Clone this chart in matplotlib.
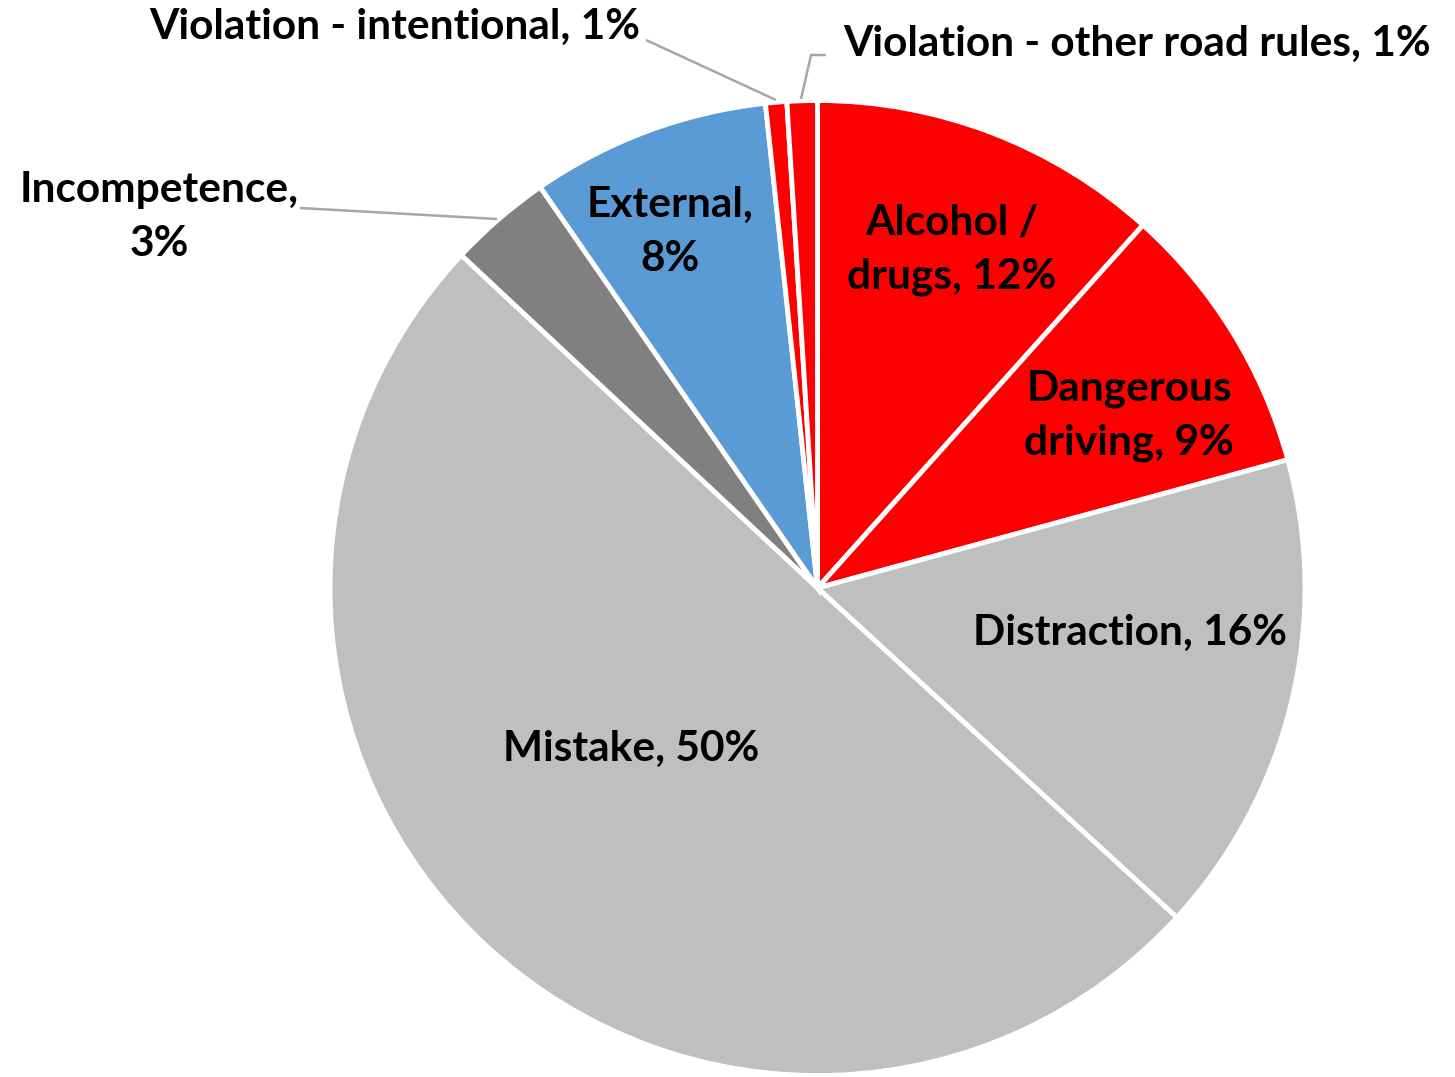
import matplotlib
matplotlib.use("Agg")
import matplotlib.pyplot as plt

categories = ["Alcohol / drugs", "Dangerous driving", "Distraction", "Mistake",
              "Incompetence", "External", "Violation - intentional",
              "Violation - other road rules"]
values = [11.6, 9.1, 16.0, 50.0, 3.4, 7.9, 0.7, 1.0]
pct_labels = ["12%", "9%", "16%", "50%", "3%", "8%", "1%", "1%"]
colors = ["#FF0000", "#FF0000", "#BFBFBF", "#BFBFBF", "#808080", "#5B9BD5",
          "#FF0000", "#FF0000"]
label_texts = ["Alcohol /\ndrugs, 12%", "Dangerous\ndriving, 9%", "Distraction, 16%",
               "Mistake, 50%", "Incompetence,\n3%", "External,\n8%",
               "Violation - intentional, 1%", "Violation - other road rules, 1%"]

W, H = 1455, 1077
cx, cy, R = 817.5, 588.0, 487.5

def px(x, y):
    return ((x - cx) / R, (cy - y) / R)

plt.rcParams['font.family'] = ['Lato', 'DejaVu Sans']
fig = plt.figure(figsize=(W / 100, H / 100), dpi=100)
ax = fig.add_axes([0, 0, 1, 1])
ax.pie(values, colors=colors, startangle=90, counterclock=False, radius=1.0,
       wedgeprops=dict(edgecolor="white", linewidth=3.5))
ax.set_xlim(-cx / R, (W - cx) / R)
ax.set_ylim(-(H - cy) / R, cy / R)
ax.set_aspect("equal")
ax.axis("off")

label_pos = [(952, 250), (1129, 416), (1130, 633), (631, 749), (159, 217),
             (670, 232), (395, 27), (1137, 44)]
fs = 30.5
for txt, (x, y) in zip(label_texts, label_pos):
    X, Y = px(x, y)
    ax.text(X, Y, txt, ha="center", va="center", fontsize=fs, fontweight="bold",
            color="black", linespacing=1.5)

# leader lines
lc = "#A6A6A6"
for pts in [[(300, 208), (497, 219)],
            [(646, 40), (776, 100)],
            [(826, 55), (811, 55), (801, 99)]]:
    xs, ys = zip(*[px(a, b) for a, b in pts])
    ax.plot(xs, ys, color=lc, linewidth=1.8, solid_capstyle="butt")

fig.savefig("out.png", dpi=100)
